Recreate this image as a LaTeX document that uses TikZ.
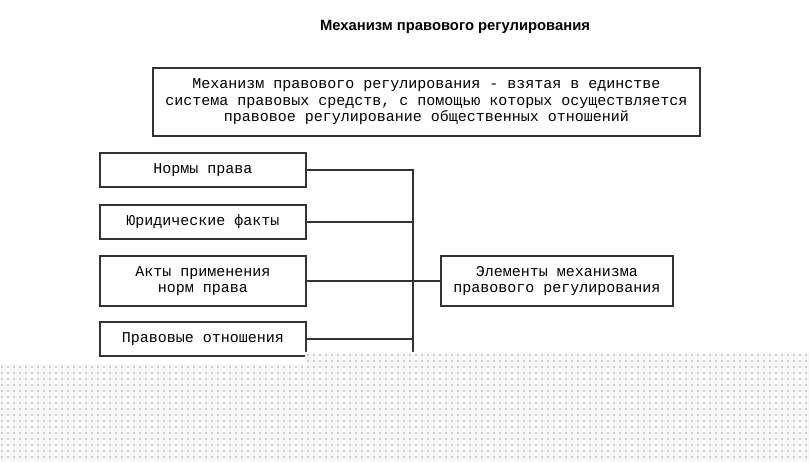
\documentclass[tikz,border=0pt]{standalone}
\usepackage{fontspec}
\setmainfont{Liberation Sans}
\newfontfamily\monofnt{Liberation Mono}
\tikzset{
  elembox/.style={draw=black!80, line width=1.1pt, inner sep=0pt, align=center,
    font=\monofnt\fontsize{15}{16.5}\selectfont},
  link/.style={draw=black!80, line width=1.1pt}
}
\begin{document}
\begin{tikzpicture}[x=1pt,y=-1pt]
\useasboundingbox (0,0) rectangle (809,462);
\fill[white] (0,0) rectangle (809,462);

\node (title) at (455,27) {\bfseries\fontsize{14.8}{17}\selectfont Механизм правового регулирования};

\node[elembox, minimum width=547, minimum height=68] (def) at (426.5,102)
  {Механизм правового регулирования - взятая в единстве\\
   система правовых средств, с помощью которых осуществляется\\
   правовое регулирование общественных отношений};

\node[elembox, minimum width=206, minimum height=34] (norms) at (203,170) {Нормы права};
\node[elembox, minimum width=206, minimum height=34] (facts) at (203,222) {Юридические факты};
\node[elembox, minimum width=206, minimum height=50] (acts) at (203,281) {Акты применения\\норм права};
\node[elembox, minimum width=206, minimum height=34] (rel) at (203,339) {Правовые отношения};
\node[elembox, minimum width=232, minimum height=50] (elem) at (557,281) {Элементы механизма\\правового регулирования};

\coordinate (top) at (413,170);
\coordinate (bot) at (413,360);
\draw[link] (norms.east) -- (top) -- (bot);
\draw[link] (facts.east) -- (413,222);
\draw[link] (acts.east) -- (elem.west);
\draw[link] (rel.east) -- (413,339);

% dotted background at the bottom
\fill[gray!6] (0,365) -- (305,365) -- (305,352) -- (809,352) -- (809,462) -- (0,462) -- cycle;
\foreach \y in {355,361,...,461} {
  \foreach \x in {2,8,...,806} {
    \pgfmathtruncatemacro{\show}{(\y>366 || \x>306) ? 1 : 0}
    \ifnum\show=1 \fill[gray!70] (\x,\y) circle (0.8); \fi
  }
}
\end{tikzpicture}
\end{document}
